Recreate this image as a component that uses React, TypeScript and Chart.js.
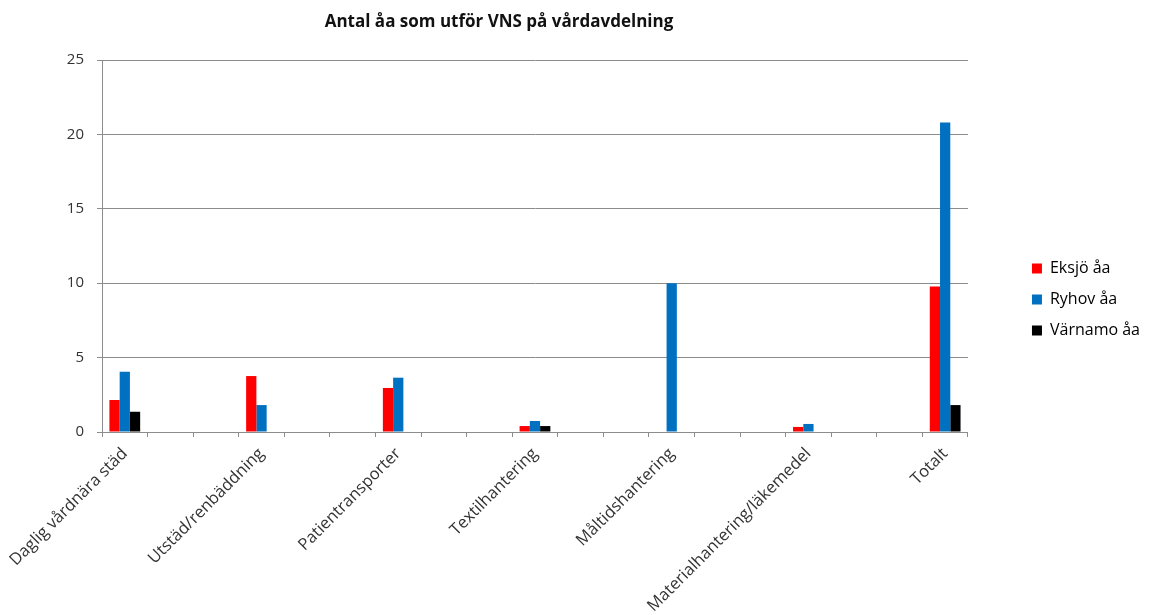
import { useEffect, useRef } from "react";
import { Chart, registerables } from "chart.js";

Chart.register(...registerables);

const TITLE = "Antal åa som utför VNS på vårdavdelning";

const categories = [
  "Daglig vårdnära städ", "", "",
  "Utstäd/renbäddning", "", "",
  "Patientransporter", "", "",
  "Textilhantering", "", "",
  "Måltidshantering", "", "",
  "Materialhantering/läkemedel", "", "",
  "Totalt",
];

const seriesNames = ["Eksjö åa", "Ryhov åa", "Värnamo åa"];

const eksjo = [2.15, null, null, 3.76, null, null, 2.96, null, null, 0.4, null, null, null, null, null, 0.34, null, null, 9.77];
const ryhov = [4.05, null, null, 1.81, null, null, 3.65, null, null, 0.74, null, null, 10, null, null, 0.54, null, null, 20.8];
const varnamo = [1.36, null, null, null, null, null, null, null, null, 0.4, null, null, null, null, null, null, null, null, 1.81];

const yMin = 0;
const yMax = 25;
const yStep = 5;

const COLORS = ["#FF0000", "#0070C0", "#000000"];
const GRID = "#8c8c8c";
const TXT = "#333333";
const FAMILY = "'Open Sans', 'Noto Sans', sans-serif";

export default function App() {
  const ref = useRef<HTMLCanvasElement>(null);

  useEffect(() => {
    if (!ref.current) return;
    const titlePlugin = {
      id: "customTitle",
      afterDraw(chart: any) {
        const ctx = chart.ctx;
        ctx.save();
        ctx.font = `bold 17px ${FAMILY}`;
        ctx.fillStyle = "#111";
        ctx.textAlign = "center";
        ctx.textBaseline = "middle";
        ctx.fillText(TITLE, 499, 22);
        ctx.restore();
      },
    };
    const series = [eksjo, ryhov, varnamo];
    const chart = new Chart(ref.current, {
      type: "bar",
      data: {
        labels: categories,
        datasets: series.map((d, i) => ({
          label: seriesNames[i],
          data: d,
          backgroundColor: COLORS[i],
          borderWidth: 0,
          categoryPercentage: 0.675,
          barPercentage: 1,
        })),
      },
      options: {
        responsive: false,
        animation: false,
        layout: { padding: { top: 60, bottom: 0, left: 0, right: 0 } },
        plugins: {
          title: { display: false },
          tooltip: { enabled: false },
          legend: {
            position: "right",
            fullSize: false,
            title: {
              display: true,
              text: "",
              font: { size: 10, lineHeight: 1 },
              padding: { top: 0, bottom: 97 },
            },
            labels: {
              boxWidth: 10,
              boxHeight: 10,
              padding: 15,
              color: "#000",
              font: { family: FAMILY, size: 16 },
            },
          },
        },
        scales: {
          x: {
            grid: {
              display: true,
              drawOnChartArea: false,
              drawTicks: true,
              tickLength: 5,
              color: GRID,
              offset: true,
            },
            border: { display: true, color: GRID },
            ticks: {
              autoSkip: false,
              maxRotation: 45,
              minRotation: 45,
              padding: 7,
              color: TXT,
              font: { family: FAMILY, size: 16.5 },
            },
            afterFit: (s: any) => {
              s.height = 183;
            },
          },
          y: {
            min: yMin,
            max: yMax,
            ticks: {
              stepSize: yStep,
              padding: 13,
              color: TXT,
              font: { family: FAMILY, size: 15 },
            },
            grid: { color: GRID, tickLength: 5 },
            border: { color: GRID },
            afterFit: (s: any) => {
              s.width = 102;
            },
          },
          yR: {
            type: "linear",
            position: "right",
            display: true,
            grid: { display: false },
            ticks: { display: false },
            border: { display: false },
            afterFit: (s: any) => {
              s.width = 49;
            },
          },
        },
      },
      plugins: [titlePlugin],
    } as any);
    return () => chart.destroy();
  }, []);

  return (
    <div style={{ position: "absolute", left: 0, top: 0, width: 1150, height: 615 }}>
      <canvas ref={ref} width={1150} height={615} style={{ display: "block" }} />
    </div>
  );
}
